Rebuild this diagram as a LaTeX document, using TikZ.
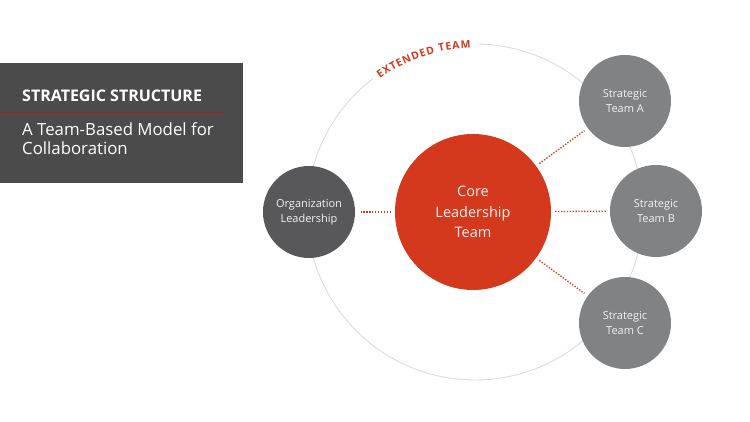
\documentclass[tikz,border=0pt]{standalone}
\usepackage{fontspec}
\setmainfont{Open Sans}
\usetikzlibrary{decorations.text}
\definecolor{boxgray}{HTML}{4B4B4B}
\definecolor{linered}{HTML}{A3201C}
\definecolor{corered}{HTML}{D5391D}
\definecolor{orggray}{HTML}{58585A}
\definecolor{teamgray}{HTML}{808284}
\definecolor{ringgray}{HTML}{DCDCDC}
\definecolor{txtwhite}{HTML}{F2F2F2}
\tikzset{
  smallcirc/.style={circle, minimum size=92pt, inner sep=0pt, text=txtwhite, align=center,
     font=\fontsize{11}{15}\selectfont},
  teamcirc/.style={smallcirc, fill=teamgray},
  orgcirc/.style={smallcirc, fill=orggray},
  corecirc/.style={circle, minimum size=156pt, inner sep=0pt, fill=corered, text=txtwhite, align=center,
     font=\fontsize{14.5}{20.5}\selectfont},
  link/.style={corered, line width=1.4pt, dash pattern=on 1.3pt off 1.6pt, shorten >=4pt, shorten <=4pt}
}
\begin{document}
\begin{tikzpicture}[x=1pt,y=1pt]
\useasboundingbox (0,0) rectangle (750,422);
\fill[white] (0,0) rectangle (750,422);
% header box
\fill[boxgray] (0,239) rectangle (243,359);
\draw[linered, line width=1pt] (0,309) -- (225,309);
\node[anchor=base west, inner sep=0pt, text=white, font=\fontsize{16}{19}\selectfont\bfseries] (title) at (22,320) {STRATEGIC STRUCTURE};
\node[anchor=base west, inner sep=0pt, text=white, align=left, font=\fontsize{16.8}{19}\selectfont] (sub) at (22,286) {A Team-Based Model for};
\node[anchor=base west, inner sep=0pt, text=white, align=left, font=\fontsize{16.8}{19}\selectfont] (sub2) at (22,267) {Collaboration};
% extended ring
\coordinate (ext) at (475,210);
\draw[ringgray, line width=0.9pt] (ext) ++(127.5:168) arc[start angle=127.5, end angle=449, radius=168];
\path[decorate, decoration={text along path, text align={fit to path},
   text={|\fontsize{10.5}{12}\selectfont\bfseries\color{corered}|EXTENDED TEAM}}]
   (ext) ++(125.5:164) arc[start angle=125.5, end angle=91.5, radius=164];
% circles
\node[corecirc] (core) at (473,210) {Core\\Leadership\\Team};
\node[orgcirc] (org) at (309,210) {Organization\\Leadership};
\node[teamcirc] (ta) at (625,321) {Strategic\\Team A};
\node[teamcirc] (tb) at (656,211) {Strategic\\Team B};
\node[teamcirc] (tc) at (625,99) {Strategic\\Team C};
% links
\draw[link] (core) -- (org);
\draw[link] (core) -- (ta);
\draw[link] (core) -- (tb);
\draw[link] (core) -- (tc);
\end{tikzpicture}
\end{document}
